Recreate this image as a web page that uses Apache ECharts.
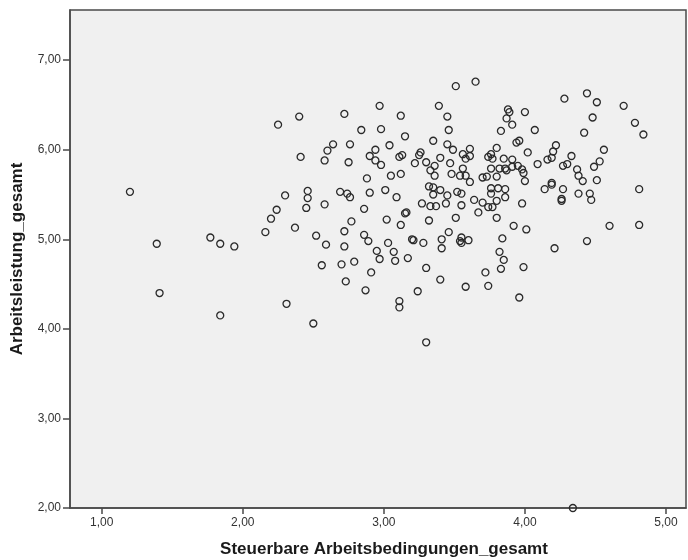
<!DOCTYPE html>
<html>
<head>
<meta charset="utf-8">
<script src="https://cdn.jsdelivr.net/npm/echarts@6/dist/echarts.min.js"></script>
<style>
  html, body { margin: 0; padding: 0; background: #ffffff; }
  #chart { width: 688px; height: 560px; }
</style>
</head>
<body>
<div id="chart"></div>
<script>
// Steuerbare Arbeitsbedingungen_gesamt (x) values
const steuerbar = [
  1.20, 1.39, 1.41, 1.77, 1.84, 1.94, 1.84, 2.16, 2.20, 2.24, 2.30, 2.25, 2.40, 2.72, 2.97, 3.12,
  2.84, 2.98, 2.64, 2.76, 2.60, 3.04, 2.94, 2.90, 2.94, 2.98, 3.11, 3.13, 2.41, 2.58, 2.75, 2.88,
  3.05, 3.12, 3.01, 2.90, 3.09, 2.69, 2.74, 2.76, 2.46, 2.46, 2.58, 2.45, 2.86, 2.37, 2.52, 2.59,
  2.77, 2.72, 2.72, 2.86, 2.89, 3.02, 3.12, 3.03, 2.95, 3.07, 2.97, 3.08, 2.56, 2.70, 2.79, 2.91,
  2.73, 2.87, 3.11, 3.11, 2.31, 2.50, 3.30, 4.34, 3.15, 3.16,
  3.51, 3.65, 3.39, 3.45, 3.46, 3.15, 3.35, 3.45, 3.49, 3.88, 3.89, 3.87, 3.91, 4.00, 3.83, 4.07,
  3.94, 3.96, 3.80, 3.61, 3.56, 3.58, 3.61, 3.26, 3.25, 3.22, 3.30, 3.40, 3.36, 3.33, 3.36, 3.47,
  3.48, 3.56, 3.54, 3.58, 3.61, 3.74, 3.76, 3.77, 3.85, 3.91, 4.02, 3.76, 3.82, 3.86, 3.87, 3.91,
  3.95, 3.98, 3.99, 3.70, 3.73, 3.80, 4.00, 4.09, 4.16, 4.19, 4.20, 4.22, 3.32, 3.35, 3.40, 3.35,
  3.45, 3.52, 3.55, 3.27, 3.33, 3.37, 3.44, 3.55, 3.64, 3.70, 3.76, 3.81, 3.86, 3.76, 3.86, 3.80,
  3.98, 4.14, 4.19, 4.19, 3.74, 3.77,
  3.32, 3.51, 3.67, 3.80, 3.92, 4.01, 3.20, 3.21, 3.28, 3.41, 3.41, 3.46, 3.55, 3.54, 3.55, 3.60,
  3.84, 3.82, 3.85, 3.83, 3.99, 4.21, 3.17, 3.30, 3.40, 3.24, 3.58, 3.72, 3.74, 3.96,
  4.28, 4.44, 4.51, 4.70, 4.48, 4.78, 4.84, 4.42, 4.33, 4.27, 4.30, 4.37, 4.38, 4.41, 4.49, 4.53,
  4.56, 4.51, 4.27, 4.38, 4.26, 4.26, 4.46, 4.47, 4.81, 4.60, 4.81, 4.44
];
// Arbeitsleistung_gesamt (y) values
const leistung = [
  5.53, 4.95, 4.40, 5.02, 4.95, 4.92, 4.15, 5.08, 5.23, 5.33, 5.49, 6.28, 6.37, 6.40, 6.49, 6.38,
  6.22, 6.23, 6.06, 6.06, 5.99, 6.05, 6.00, 5.93, 5.88, 5.83, 5.92, 5.94, 5.92, 5.88, 5.86, 5.68,
  5.71, 5.73, 5.55, 5.52, 5.47, 5.53, 5.51, 5.47, 5.54, 5.46, 5.39, 5.35, 5.34, 5.13, 5.04, 4.94,
  5.20, 5.09, 4.92, 5.05, 4.98, 5.22, 5.16, 4.96, 4.87, 4.86, 4.78, 4.76, 4.71, 4.72, 4.75, 4.63,
  4.53, 4.43, 4.31, 4.24, 4.28, 4.06, 3.85, 2.00, 5.29, 5.30,
  6.71, 6.76, 6.49, 6.37, 6.22, 6.15, 6.10, 6.06, 6.00, 6.45, 6.42, 6.35, 6.28, 6.42, 6.21, 6.22,
  6.08, 6.10, 6.02, 6.01, 5.95, 5.90, 5.93, 5.97, 5.94, 5.85, 5.86, 5.91, 5.82, 5.77, 5.71, 5.85,
  5.73, 5.79, 5.71, 5.71, 5.64, 5.92, 5.95, 5.90, 5.90, 5.89, 5.97, 5.79, 5.79, 5.79, 5.77, 5.81,
  5.82, 5.78, 5.74, 5.69, 5.70, 5.70, 5.65, 5.84, 5.89, 5.91, 5.98, 6.05, 5.59, 5.58, 5.55, 5.50,
  5.49, 5.53, 5.51, 5.40, 5.37, 5.37, 5.40, 5.38, 5.44, 5.41, 5.57, 5.57, 5.56, 5.51, 5.47, 5.43,
  5.40, 5.56, 5.61, 5.63, 5.36, 5.36,
  5.21, 5.24, 5.30, 5.24, 5.15, 5.11, 5.00, 4.99, 4.96, 5.00, 4.90, 5.08, 5.02, 4.98, 4.96, 4.99,
  5.01, 4.86, 4.77, 4.67, 4.69, 4.90, 4.79, 4.68, 4.55, 4.42, 4.47, 4.63, 4.48, 4.35,
  6.57, 6.63, 6.53, 6.49, 6.36, 6.30, 6.17, 6.19, 5.93, 5.82, 5.84, 5.78, 5.71, 5.65, 5.81, 5.87,
  6.00, 5.66, 5.56, 5.51, 5.45, 5.43, 5.51, 5.44, 5.56, 5.15, 5.16, 4.98
];
const xTicks = [1, 2, 3, 4, 5];
const yTicks = [2, 3, 4, 5, 6, 7];

const points = steuerbar.map((x, i) => [x, leistung[i]]);
const fmt = v => Number(v).toFixed(2).replace('.', ',');

const chart = echarts.init(document.getElementById('chart'), null, { renderer: 'canvas' });
chart.setOption({
  backgroundColor: '#ffffff',
  animation: false,
  textStyle: { fontFamily: 'Liberation Sans, Arial, sans-serif' },
  grid: {
    left: 70, top: 10, right: 2, bottom: 52,
    show: true, backgroundColor: '#f0f0f0', borderColor: '#4a4a4a', borderWidth: 1.5,
    containLabel: false,
    outerBoundsMode: 'none'
  },
  xAxis: {
    type: 'value', min: 0.775, max: 5.142,
    name: 'Steuerbare Arbeitsbedingungen_gesamt', nameLocation: 'middle', nameGap: 33,
    nameTextStyle: { fontSize: 17, fontWeight: 'bold', color: '#1a1a1a', padding: [0, 0, 0, 12],
      fontFamily: 'Liberation Sans, Arial, sans-serif' },
    axisLine: { show: true, onZero: false, lineStyle: { color: '#4a4a4a', width: 1.5 } },
    axisTick: { show: true, length: 6, customValues: xTicks, lineStyle: { color: '#4a4a4a', width: 1.5 } },
    axisLabel: { customValues: xTicks, formatter: fmt, fontSize: 12, color: '#333', margin: 9 },
    splitLine: { show: false }
  },
  yAxis: {
    type: 'value', min: 2, max: 7.56,
    name: 'Arbeitsleistung_gesamt', nameLocation: 'middle', nameGap: 44,
    nameTextStyle: { fontSize: 17, fontWeight: 'bold', color: '#1a1a1a',
      fontFamily: 'Liberation Sans, Arial, sans-serif' },
    axisLine: { show: true, onZero: false, lineStyle: { color: '#4a4a4a', width: 1.5 } },
    axisTick: { show: true, length: 7, customValues: yTicks, lineStyle: { color: '#4a4a4a', width: 1.5 } },
    axisLabel: { customValues: yTicks, formatter: fmt, fontSize: 12, color: '#333', margin: 9 },
    splitLine: { show: false }
  },
  series: [{
    type: 'scatter',
    data: points,
    symbol: 'circle',
    symbolSize: 7,
    clip: true,
    itemStyle: { color: 'rgba(0,0,0,0)', borderColor: '#2a2a2a', borderWidth: 1.3, opacity: 1 },
    emphasis: { disabled: true }
  }]
});
</script>
</body>
</html>
